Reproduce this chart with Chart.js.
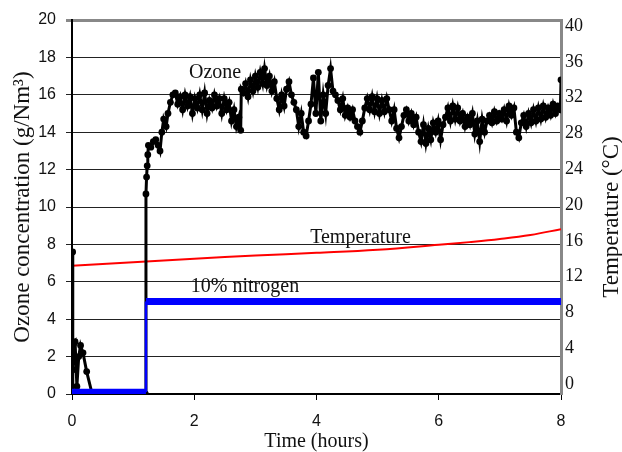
<!DOCTYPE html>
<html>
<head>
<meta charset="utf-8">
<script src="https://cdn.jsdelivr.net/npm/chart.js@4.4.0/dist/chart.umd.min.js"></script>
<style>
  html, body { margin: 0; padding: 0; background: #fff; }
  #wrap { width: 622px; height: 452px; }
</style>
</head>
<body>
<div id="wrap"><canvas id="myChart" width="622" height="452"></canvas></div>
<script>
// ozone concentration (g/Nm3) vs time (hours)
var ozoneHours = [
  0.00, 0.01, 0.015, 0.03, 0.05, 0.08, 0.11, 0.14, 0.18, 0.24, 0.33, 1.20,
  1.21, 1.22, 1.23, 1.24, 1.25, 1.29, 1.33, 1.37, 1.41, 1.44, 1.47, 1.50,
  1.54, 1.57, 1.61, 1.65, 1.69, 1.73, 1.77, 1.81, 1.85, 1.89, 1.93, 1.97,
  2.01, 2.05, 2.09, 2.13, 2.17, 2.21, 2.25, 2.29, 2.33, 2.37, 2.41, 2.45,
  2.49, 2.53, 2.57, 2.61, 2.65, 2.69, 2.73, 2.76, 2.77, 2.80, 2.84, 2.88,
  2.92, 2.96, 3.00, 3.04, 3.08, 3.12, 3.15, 3.19, 3.23, 3.27, 3.31, 3.35,
  3.39, 3.43, 3.47, 3.51, 3.55, 3.59, 3.63, 3.67, 3.71, 3.75, 3.79, 3.83,
  3.87, 3.91, 3.95, 3.99, 4.03, 4.07, 4.11, 4.15, 4.19, 4.23, 4.27, 4.31,
  4.35, 4.39, 4.43, 4.47, 4.51, 4.55, 4.59, 4.63, 4.67, 4.71, 4.75, 4.79,
  4.83, 4.87, 4.91, 4.95, 4.99, 5.03, 5.07, 5.11, 5.15, 5.19, 5.23, 5.27,
  5.31, 5.35, 5.39, 5.43, 5.47, 5.51, 5.55, 5.59, 5.63, 5.67, 5.71, 5.75,
  5.79, 5.83, 5.87, 5.91, 5.95, 5.99, 6.03, 6.07, 6.11, 6.15, 6.19, 6.23,
  6.27, 6.31, 6.35, 6.39, 6.43, 6.47, 6.51, 6.55, 6.59, 6.63, 6.67, 6.71,
  6.75, 6.79, 6.83, 6.87, 6.91, 6.95, 6.99, 7.03, 7.07, 7.11, 7.15, 7.19,
  7.23, 7.27, 7.31, 7.35, 7.39, 7.43, 7.47, 7.51, 7.55, 7.59, 7.63, 7.67,
  7.71, 7.75, 7.79, 7.83, 7.87, 7.91, 7.95, 7.99, 8.00
];
var ozoneValues = [
  0, 7.6, 1.3, 2.7, 2.8, 0.4, 2.0, 2.6, 2.2, 1.2, 0, 0,
  10.7, 11.6, 12.2, 12.8, 13.3, 13.2, 13.5, 13.6, 13.3, 13.0, 14.0, 14.7,
  14.3, 15.0, 15.6, 16.0, 16.1, 15.5, 15.9, 15.2, 16.0, 15.4, 15.9, 15.0,
  15.8, 15.3, 16.0, 15.2, 16.1, 15.0, 15.7, 15.3, 16.0, 15.4, 15.8, 15.0,
  15.8, 15.2, 15.6, 14.6, 15.2, 14.3, 14.8, 14.1, 16.3, 16.1, 16.6, 15.9,
  16.8, 16.2, 17.0, 16.4, 17.2, 16.6, 17.4, 16.5, 17.0, 16.2, 16.7, 15.8,
  15.2, 16.0, 15.4, 16.3, 16.7, 16.0, 15.6, 15.2, 14.3, 15.0, 14.0, 13.8,
  14.6, 15.5, 16.9, 15.0, 17.2, 14.6, 16.0, 15.0, 16.5, 17.4, 16.2, 16.0,
  15.7, 15.2, 15.8, 14.9, 15.3, 14.8, 15.2, 14.6, 14.3, 14.0, 14.6, 15.3,
  15.8, 15.2, 15.9, 15.1, 15.8, 15.0, 15.7, 15.1, 15.8, 15.2, 14.6, 15.2,
  14.2, 13.7, 14.3, 14.9, 15.2, 14.6, 15.0, 14.4, 14.8, 14.0, 13.5, 14.4,
  13.4, 14.2, 13.6, 14.5, 14.0, 14.6, 13.6, 14.4, 14.8, 15.3, 14.6, 15.4,
  14.7, 15.3, 14.6, 15.0, 14.3, 14.8, 14.4, 15.0, 13.9, 14.6, 13.5, 14.7,
  14.0, 14.6, 14.9, 14.5, 15.1, 14.6, 15.0, 14.7, 15.2, 14.6, 15.4, 14.9,
  15.3, 14.0, 13.7, 14.5, 14.9, 14.3, 15.0, 14.5, 15.2, 14.6, 15.3, 14.7,
  15.4, 14.8, 15.3, 14.9, 15.5, 15.0, 15.4, 15.2, 16.8
];

// 10% nitrogen trace (left axis)
var nitrogenHours = [0, 1.21, 1.21, 8];
var nitrogenValues = [0.1, 0.1, 4.95, 4.95];

// temperature (°C), right axis
var temperatureHours = [0, 1, 2, 3, 4, 5, 6, 6.5, 7, 7.5, 8];
var temperatureValues = [13.2, 13.6, 14.0, 14.35, 14.65, 15.0, 15.55, 15.85, 16.2, 16.65, 17.3];

var rightTicks = [0, 4, 8, 12, 16, 20, 24, 28, 32, 36, 40];

// text labels placed in data coordinates (hours, ozone scale)
var seriesLabels = [
  { text: "Ozone", t: 2.34, v: 17.2 },
  { text: "Temperature", t: 4.72, v: 8.35 },
  { text: "10% nitrogen", t: 2.83, v: 5.75 }
];

function toPoints(xs, ys) {
  return xs.map(function (x, i) { return { x: x, y: ys[i] }; });
}

var serif = "'Liberation Serif', 'Times New Roman', serif";
var sans = "'Liberation Sans', Arial, sans-serif";

var labelPlugin = {
  id: "labels",
  afterDatasetsDraw: function (chart) {
    var ctx = chart.ctx;
    var xs = chart.scales.x, ys = chart.scales.y;
    ctx.save();
    ctx.fillStyle = "#111";
    ctx.font = "20px " + serif;
    ctx.textAlign = "center";
    ctx.textBaseline = "middle";
    seriesLabels.forEach(function (l) {
      ctx.fillText(l.text, xs.getPixelForValue(l.t), ys.getPixelForValue(l.v));
    });
    // right axis title reads bottom to top
    ctx.translate(612, 217);
    ctx.rotate(-Math.PI / 2);
    ctx.font = "23px " + serif;
    ctx.fillText("Temperature (°C)", 0, 0);
    ctx.restore();
  }
};

var ctx = document.getElementById("myChart").getContext("2d");

var myChart = new Chart(ctx, {
  type: "line",
  data: {
    datasets: [
      {
        label: "10% nitrogen",
        data: toPoints(nitrogenHours, nitrogenValues),
        borderColor: "#0000ff",
        backgroundColor: "#0000ff",
        borderWidth: 7,
        pointRadius: 0,
        yAxisID: "y",
        order: 0,
        segment: {
          borderWidth: function (c) { return c.p0.parsed.y === c.p1.parsed.y ? 7 : 2.5; }
        }
      },
      {
        label: "Ozone",
        data: toPoints(ozoneHours, ozoneValues),
        borderColor: "#000",
        backgroundColor: "#000",
        borderWidth: 3,
        pointRadius: 3.4,
        pointBorderWidth: 0,
        yAxisID: "y",
        order: 1
      },
      {
        label: "Temperature",
        data: toPoints(temperatureHours, temperatureValues),
        borderColor: "#ff0000",
        borderWidth: 2,
        pointRadius: 0,
        tension: 0.4,
        yAxisID: "y2",
        order: 2
      }
    ]
  },
  options: {
    responsive: false,
    animation: false,
    layout: { padding: { top: 20, left: 0, right: 0, bottom: 0 } },
    plugins: {
      legend: { display: false },
      tooltip: { enabled: false }
    },
    scales: {
      x: {
        type: "linear",
        min: 0,
        max: 8,
        ticks: { stepSize: 2, color: "#111", padding: 12, font: { family: sans, size: 16 } },
        grid: { drawOnChartArea: false, drawTicks: true, tickLength: 6, color: "#000" },
        border: { color: "#000", width: 2 },
        title: {
          display: true,
          text: "Time (hours)",
          color: "#111",
          font: { family: serif, size: 20, lineHeight: 1 },
          padding: { top: 0, bottom: 0 }
        },
        afterFit: function (s) { s.height = 58; }
      },
      y: {
        position: "left",
        min: 0,
        max: 20,
        ticks: { stepSize: 2, color: "#111", padding: 10, font: { family: sans, size: 16 } },
        grid: {
          color: function (c) { return c.tick && c.tick.value === 20 ? "#888" : "#222"; },
          lineWidth: function (c) { return c.tick && c.tick.value === 20 ? 3 : 1; },
          tickLength: 6
        },
        border: { color: "#000", width: 2 },
        title: {
          display: true,
          text: "Ozone concentration (g/Nm³)",
          color: "#111",
          font: { family: serif, size: 23, lineHeight: 1.2 },
          padding: { top: 9, bottom: 0 }
        },
        afterFit: function (s) { s.width = 72; }
      },
      y2: {
        position: "right",
        min: -1.12,
        max: 40.67,
        afterBuildTicks: function (s) {
          s.ticks = rightTicks.map(function (v) { return { value: v }; });
        },
        ticks: { color: "#111", padding: 4, font: { family: serif, size: 18 } },
        grid: { drawOnChartArea: false, drawTicks: false, tickLength: 0 },
        border: { color: "#888", width: 3 },
        afterFit: function (s) { s.width = 61; }
      }
    }
  },
  plugins: [labelPlugin]
});
</script>
</body>
</html>
